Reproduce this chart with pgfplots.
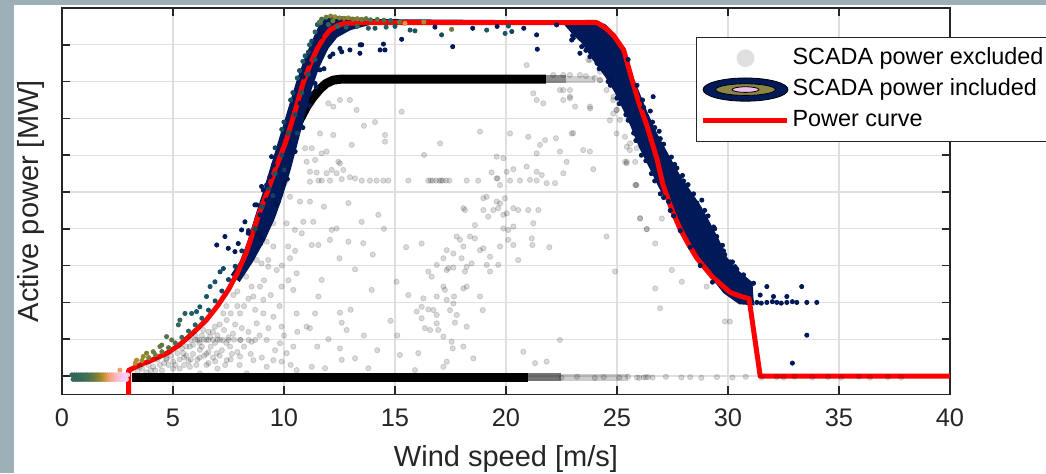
\documentclass[border=0pt]{standalone}
\usepackage{fontspec}
\setmainfont{Liberation Sans}
\usepackage{pgfplots}
\pgfplotsset{compat=1.18}

\definecolor{framebg}{RGB}{158,176,183}
\definecolor{navy}{RGB}{1,25,89}
\definecolor{axgray}{RGB}{38,38,38}
\definecolor{olivering}{RGB}{138,133,68}
\definecolor{pinkcore}{RGB}{240,190,235}

\pgfplotsset{colormap={batlow}{rgb255(0cm)=(1,25,89) rgb255(1cm)=(16,63,96) rgb255(2cm)=(28,90,98) rgb255(3cm)=(60,109,86) rgb255(4cm)=(104,123,62) rgb255(5cm)=(157,137,43) rgb255(6cm)=(210,147,67) rgb255(7cm)=(248,161,123) rgb255(8cm)=(253,183,188) rgb255(9cm)=(249,204,249)}}

\begin{document}
\begin{tikzpicture}
\useasboundingbox (0,0) rectangle (523pt,236.5pt);
\fill[framebg] (0,0) rectangle (523pt,236.5pt);
\fill[white] (7pt,0) rectangle (523pt,234pt);
\begin{axis}[
  at={(31pt,39.3pt)}, anchor=south west,
  scale only axis, width=444pt, height=193.2pt,
  xmin=0, xmax=40, ymin=-0.5, ymax=10,
  xtick={0,5,...,40}, ytick={0,1,...,10}, yticklabels={},
  grid=major, grid style={gray!25, line width=0.6pt},
  axis line style={axgray, line width=0.8pt},
  tick style={axgray, line width=0.8pt}, major tick length=4pt,
  tick align=inside,
  ticklabel style={font=\fontsize{12.7}{14}\selectfont, text=axgray},
  /pgf/number format/assume math mode=true,
  xticklabel style={yshift=-3.6pt},
  xlabel={Wind speed [m/s]}, ylabel={Active power [MW]},
  label style={font=\fontsize{14.5}{17}\selectfont, text=axgray},
  xlabel style={at={(axis description cs:0.5,-0.1853)}, anchor=base},
  ylabel style={at={(axis description cs:-0.027,0.5)}, anchor=base},
  legend style={at={(axis description cs:0.714,0.925)}, anchor=north west,
    draw=axgray, line width=0.5pt, fill=white,
    font=\fontsize{11.7}{14}\selectfont, inner xsep=2pt, inner ysep=2.5pt,
    row sep=0pt, nodes={inner xsep=1.5pt, inner ysep=2.25pt, text height=8.6pt, text depth=2.6pt}},
  legend cell align=left,
  colormap name=batlow, point meta min=0, point meta max=1,
]

% SCADA power excluded
\addplot[only marks, mark=*, mark size=1.35pt,
  mark options={draw=black, fill=black, draw opacity=0.13, fill opacity=0.15, line width=0.4pt},
  legend image code/.code={\path[draw=none, fill=none] (0pt,-5.8pt) rectangle (42.5pt,5.8pt); \fill[black!12] (21.25pt,0pt) circle (4.2pt);}]
coordinates {
(9.52,4.15)(9.67,4.69)(10.27,4.87)(10.04,5.24)(10.12,4.15)(10.49,3.97)(8.77,3.88)(8.99,3.74)(9.22,3.65)(9.52,3.52)
(8.77,3.15)(9.29,3.15)(10.19,3.52)(10.27,3.20)(8.99,3.06)(9.29,2.97)(9.67,2.88)(10.57,2.79)(8.54,2.43)(8.92,2.43)
(9.89,2.43)(8.62,2.16)(9.07,2.07)(10.42,2.34)(7.72,2.20)(8.02,1.70)(9.07,1.70)(9.52,1.61)(8.77,1.43)(9.89,1.34)
(10.57,1.70)(7.42,1.52)(7.27,1.70)(6.89,1.34)(6.36,1.25)(6.67,1.07)(7.12,0.98)(7.57,0.80)(8.02,0.98)(8.54,0.93)
(9.22,0.98)(9.82,0.89)(10.42,0.80)(5.76,0.80)(6.21,0.71)(5.46,0.62)(4.71,0.48)(5.01,0.39)(4.11,0.25)(4.41,0.30)
(6.97,0.62)(7.42,0.43)(8.02,0.53)(8.62,0.43)(9.22,0.25)(9.89,0.39)(10.57,0.16)(5.76,0.25)(6.51,0.30)(6.21,0.07)
(8.32,0.07)(9.52,0.43)(10.12,0.62)
(5.8,0.98)(6.0,0.99)(6.2,0.98)(6.4,0.99)(6.6,0.98)(6.8,0.98)(7.0,0.99)(7.25,0.98)(7.5,0.98)(7.75,0.99)
(8.05,0.98)(8.4,0.98)(8.7,0.98)(6.1,0.98)(6.5,0.98)
(5.3,0.45)(5.6,0.55)(5.9,0.6)(6.1,0.45)(6.4,0.55)(6.7,0.8)(6.9,0.9)(6.3,1.1)(6.0,1.1)(5.6,0.8)
(5.2,0.62)(7.3,1.25)(7.7,1.15)(6.6,0.35)(7.0,0.2)(5.0,0.2)(4.8,0.3)(4.5,0.15)(7.1,1.4)(7.6,0.45)
(8.1,1.3)(7.9,0.65)(3.6,0.2)(3.9,0.3)(4.2,0.15)(3.8,0.1)(5.5,0.3)(6.8,1.2)(7.4,1.9)(7.9,2.3)(8.3,2.7)(8.2,1.9)
(4.3,0.45)(4.6,0.35)(4.9,0.55)(5.1,0.3)(5.4,0.75)(5.7,0.4)(5.9,0.85)(6.05,0.3)(6.3,0.8)(6.5,0.6)
(6.6,1.2)(6.8,0.5)(7.0,1.1)(7.2,0.7)(7.35,0.3)(7.5,1.05)(7.65,0.6)(7.8,1.4)(8.0,0.3)(8.2,0.8)
(8.4,1.2)(8.5,0.6)(8.7,1.8)(8.9,1.1)(9.0,0.5)(9.3,1.3)(9.4,2.2)(9.6,0.7)(9.8,1.9)(10.0,1.1)
(10.2,2.6)(10.3,0.3)(10.6,1.2)(10.5,3.4)(9.9,3.0)(9.1,2.6)(8.4,2.1)(7.6,1.7)(7.9,1.9)(6.2,0.5)
(5.3,0.2)(4.0,0.15)(3.4,0.12)(3.5,0.25)(4.7,0.45)(5.8,0.45)(6.9,0.4)(7.1,0.55)(7.4,0.9)(5.5,0.5)
(6.6,0.65)(6.2,0.9)
(11.5,0.8)(12.0,1.0)(13.0,1.8)(13.6,1.1)(14.2,0.7)(14.8,1.5)(13.2,2.9)(12.5,3.2)(14.0,3.3)(11.8,4.6)
(12.9,4.7)(14.5,4.0)(15.5,3.5)(15.1,1.1)(16.2,3.6)(15.6,2.2)
(11.62,6.59)(12.22,6.55)(10.95,6.19)(11.25,6.19)(11.70,6.05)(11.92,6.10)(11.02,5.82)(11.40,5.87)(12.45,5.82)(12.52,5.78)
(12.67,5.60)(11.17,5.55)(11.47,5.53)(11.92,5.51)(12.15,5.60)(12.37,5.51)
(11.17,5.28)(11.55,5.31)(11.70,5.31)(12.07,5.31)(12.60,5.35)(12.97,5.40)(13.20,5.37)(13.50,5.31)(13.87,5.31)(14.17,5.31)
(14.47,5.31)(14.70,5.31)(15.60,5.31)(16.50,5.31)(16.70,5.31)(16.85,5.31)(17.00,5.31)(17.15,5.31)(17.30,5.31)(17.45,5.31)
(16.60,5.31)(17.08,5.31)(18.23,5.31)(18.75,5.31)(19.58,5.37)(20.18,5.31)
(20.63,5.31)(21.08,5.33)(21.38,5.31)(21.83,5.24)(22.21,5.24)
(14.55,6.55)(14.55,6.37)(13.05,6.28)(17.03,6.32)(16.31,6.01)(10.72,4.74)(11.17,4.74)(10.87,4.19)(11.32,4.19)(13.50,4.19)
(14.25,4.38)(12.15,3.97)(12.37,4.01)(10.80,3.88)(11.25,3.56)(11.55,3.56)(12.07,3.70)(12.90,3.65)(13.57,3.61)(15.07,2.56)
(13.95,2.34)(11.70,2.61)(11.55,2.16)(11.40,1.70)(12.52,1.72)(12.60,1.45)(12.82,1.25)(11.02,1.34)(11.17,1.30)(12.52,0.75)
(12.60,0.44)(13.20,0.48)(13.80,0.21)(11.85,0.21)(11.25,0.25)(15.22,0.57)(16.05,0.62)(15.90,0.16)(17.33,0.39)(17.18,0.25)
(18.53,0.48)(20.78,0.66)(21.31,0.35)(21.83,0.39)(22.43,0.98)
(15.98,1.75)(16.20,1.88)(16.28,2.11)(16.50,1.81)(16.73,1.79)(16.88,2.16)(16.88,1.66)(16.20,1.57)(16.35,1.30)(16.58,1.25)
(16.95,1.25)(16.88,1.43)(17.18,1.07)(17.55,0.93)(17.60,0.75)(18.08,0.80)(18.23,1.34)(17.70,1.45)(17.78,1.66)(17.48,1.79)
(17.63,1.97)(17.66,2.16)(17.33,2.07)(17.25,2.34)(17.18,2.43)(17.40,2.93)(17.63,2.95)(17.33,2.88)(16.50,2.84)(16.88,3.02)
(16.65,2.70)(17.18,3.20)(17.33,3.42)(17.63,3.33)(17.78,3.79)(17.93,3.70)(18.08,3.52)(18.00,3.20)(18.15,2.84)(18.23,2.97)
(18.45,3.06)(18.08,2.38)(18.23,2.43)(18.83,2.16)(18.95,1.79)(18.38,3.79)(18.60,3.74)(18.83,3.42)(18.98,3.47)(19.28,3.24)
(19.13,3.02)(19.28,2.84)(19.65,3.02)(19.73,3.52)(20.10,3.70)(20.33,3.56)(20.10,3.97)(19.88,4.01)(20.33,4.06)(20.55,3.15)
(21.16,3.74)(21.19,3.56)(21.95,3.50)(21.23,4.15)(21.00,4.51)(21.46,4.51)(20.55,4.51)(20.33,4.56)(20.03,4.42)(19.88,4.38)
(19.65,4.56)(19.43,4.51)(19.20,4.33)(18.98,4.51)(18.08,4.56)(18.15,4.51)(18.60,4.10)(18.98,4.83)(19.13,4.87)(19.58,4.74)
(19.95,4.83)(19.73,4.69)(19.35,5.53)(19.62,5.37)(19.73,5.19)(20.03,5.55)(20.33,5.62)(20.93,5.69)(21.38,5.55)(21.61,5.46)
(21.53,6.28)(21.76,6.41)(22.25,6.46)(21.38,6.05)(22.43,6.10)(22.73,5.82)(22.96,6.59)(23.93,5.62)(24.53,3.79)(24.91,2.84)
(26.04,4.29)(25.36,5.82)(25.86,5.19)(26.34,3.99)(25.59,6.32)(21.00,6.50)(20.18,6.59)(19.58,5.96)(19.88,5.92)(18.83,6.64)
(12.0,7.41)(12.22,7.32)(12.52,7.5)(12.97,7.5)(13.27,7.23)(15.3,7.18)(14.1,6.9)(13.6,6.8)
(20.93,8.45)(21.23,7.68)(21.38,7.5)(21.68,7.41)(22.43,7.77)(22.58,7.5)(22.88,7.59)(23.11,7.32)(23.79,7.27)(24.24,8.04)
(24.69,8.04)(24.84,7.59)(24.99,7.23)(22.58,7.77)(22.88,7.55)(23.78,7.32)(24.23,8.04)(24.53,7.77)(24.83,7.5)(24.98,7.23)
(25.13,6.96)(25.36,6.5)(25.58,6.14)(23.03,6.6)(23.71,8.59)(24.23,8.27)(23.78,8.59)(22.88,7.77)(23.48,6.14)(23.78,6.1)
(22.58,5.51)(25.43,5.78)(25.88,5.19)(24.98,6.59)(24.68,6.95)(24.83,7.13)
(22.13,8.18)(22.58,8.18)(22.88,8.18)(23.33,8.18)(23.6,8.15)(24.0,8.1)
(25.44,6.23)(25.89,6.19)(25.44,5.82)(25.82,5.82)(25.82,5.19)(26.04,4.28)(26.34,3.99)(27.02,4.28)(26.72,3.60)(27.47,2.88)
(27.92,2.56)(29.04,2.43)(26.72,2.38)(26.94,1.84)(29.86,1.48)(30.09,1.48)
(22.5,-0.04)(23.2,-0.02)(24.0,-0.05)(24.4,-0.03)(25.1,-0.04)(25.5,-0.02)(26.0,-0.05)(26.3,-0.03)(26.6,-0.04)(27.2,-0.02)
(27.9,-0.04)(28.3,-0.03)(28.8,-0.05)(29.5,-0.03)(30.2,-0.04)(30.8,-0.02)(31.5,-0.04)(32.2,-0.03)(32.5,-0.04)(33.0,-0.02)
(33.8,-0.04)(34.5,-0.03)(35.1,-0.04)(35.9,-0.02)(36.4,-0.04)(37.2,-0.03)(37.8,-0.04)(26.2,-0.04)(26.4,-0.03)(25.9,-0.04)
};
\addlegendentry{SCADA power excluded}

% dense excluded bands
\addplot[black, line width=4.5pt, forget plot] coordinates {(3.15,-0.03) (21.0,-0.03)};
\addplot[black, opacity=0.55, line width=4pt, forget plot] coordinates {(21.0,-0.03) (22.5,-0.03)};
\addplot[black, opacity=0.2, line width=3.5pt, forget plot] coordinates {(22.5,-0.03) (25.5,-0.03)};
\addplot[black, line width=4.5pt, line join=round, forget plot] coordinates {
(10.1,6.05)(10.34,6.41)(10.7,6.95)(11.02,7.32)(11.3,7.57)(11.62,7.8)(11.9,7.95)(12.22,8.04)(12.6,8.07)(21.8,8.07)};
\addplot[black, opacity=0.45, line width=4pt, forget plot] coordinates {(21.8,8.07) (22.7,8.07)};
\addplot[black, opacity=0.18, line width=3.5pt, forget plot] coordinates {(22.7,8.07) (24.0,8.07)};

% SCADA power included: dense core
\addplot[fill=navy, draw=none, forget plot] coordinates {
(7.6,2.75)(8.0,3.1)(8.35,3.65)(8.7,4.35)(9.05,5.0)(9.4,5.7)(9.8,6.5)(10.2,7.3)(10.55,8.0)(10.9,8.6)
(11.25,9.1)(11.55,9.5)(11.85,9.72)(12.3,9.78)(13.0,9.76)(14.0,9.7)(22.5,9.66)(24.0,9.68)(24.5,9.55)(24.9,9.3)
(25.25,8.9)(25.75,8.1)(26.35,7.2)(26.8,6.6)(27.25,6.1)(27.8,5.5)(28.3,5.05)(28.8,4.6)(29.2,4.16)(29.6,3.7)
(29.95,3.23)(30.5,2.85)(31.1,2.55)(31.15,2.1)(31.2,1.92)(30.5,1.95)
(29.8,2.25)(29.2,2.7)(28.6,3.2)(28.15,3.7)(27.8,4.16)(27.3,4.7)(26.9,5.1)(26.5,5.6)(26.0,6.2)(25.6,6.8)
(25.3,7.2)(24.9,7.7)(24.5,8.1)(23.9,8.6)(23.4,9.05)(22.9,9.35)(22.6,9.56)
(14.0,9.56)(13.0,9.4)(12.4,9.2)(12.0,8.9)(11.6,8.4)(11.25,7.8)(10.95,7.1)(10.65,6.4)(10.3,5.6)(9.95,4.9)
(9.6,4.3)(9.15,3.7)(8.6,3.1)(8.0,2.55)} -- cycle;

% SCADA power included: coloured by density
\addplot[scatter, only marks, mark=*, mark size=1.05pt, scatter src=explicit,
  scatter/use mapped color={draw=mapped color, fill=mapped color}, forget plot]
coordinates {
(0.45,0.03)[0.30](0.55,0.03)[0.30](0.65,0.03)[0.30](0.75,0.03)[0.31](0.85,0.03)[0.32](0.95,0.03)[0.33]
(1.05,0.03)[0.34](1.15,0.03)[0.36](1.25,0.03)[0.37](1.35,0.03)[0.40](1.45,0.03)[0.43](1.55,0.03)[0.46]
(1.65,0.03)[0.50](1.75,0.03)[0.54](1.85,0.03)[0.59](1.95,0.03)[0.64](2.05,0.03)[0.70](2.15,0.03)[0.76]
(2.25,0.03)[0.80](2.35,0.03)[0.84](2.45,0.03)[0.88](2.55,0.03)[0.92](2.65,0.03)[0.95](2.75,0.03)[0.98]
(2.85,0.03)[1.0](2.95,0.03)[1.0]
(0.5,-0.09)[0.30](0.6,-0.09)[0.30](0.7,-0.09)[0.30](0.8,-0.09)[0.31](0.9,-0.09)[0.32](1.0,-0.09)[0.33]
(1.1,-0.09)[0.35](1.2,-0.09)[0.36](1.3,-0.09)[0.38](1.4,-0.09)[0.41](1.5,-0.09)[0.44](1.6,-0.09)[0.48]
(1.7,-0.09)[0.52](1.8,-0.09)[0.56](1.9,-0.09)[0.62](2.0,-0.09)[0.67](2.1,-0.09)[0.73](2.2,-0.09)[0.78]
(2.3,-0.09)[0.82](2.4,-0.09)[0.86](2.5,-0.09)[0.90](2.6,-0.09)[0.94](2.7,-0.09)[0.97](2.8,-0.09)[1.0](2.9,-0.09)[1.0]
(2.61,0.16)[0.75](3.36,0.43)[0.6](3.66,0.53)[0.55](3.81,0.62)[0.5](4.11,0.66)[0.45](4.41,0.80)[0.45]
(4.49,0.84)[0.42](4.71,1.07)[0.4](4.94,0.98)[0.42](5.24,1.39)[0.3](5.31,1.52)[0.3](5.54,1.70)[0.26]
(5.84,1.70)[0.25](6.06,1.75)[0.22](6.21,1.88)[0.2](6.51,2.16)[0.2](6.67,2.43)[0.2](6.89,2.56)[0.18]
(7.12,2.83)[0.15](7.27,2.92)[0.15]
(3.3,0.35)[0.6](3.6,0.42)[0.55](3.9,0.5)[0.5](4.2,0.58)[0.46](4.5,0.66)[0.43](4.8,0.77)[0.4]
(5.1,0.9)[0.36](5.4,1.05)[0.32](5.7,1.22)[0.28](6.0,1.39)[0.25](6.3,1.57)[0.22](6.6,1.79)[0.2]
(6.9,2.04)[0.18](7.2,2.31)[0.15](7.5,2.62)[0.12](7.8,2.98)[0.1](8.1,3.4)[0.08](8.4,3.95)[0.05]
(9.6,6.2)[0.12](9.9,6.7)[0.15](10.3,7.5)[0.17](10.6,8.1)[0.2](10.85,8.55)[0.22](11.15,9.0)[0.25]
(11.4,9.35)[0.3](11.65,9.6)[0.35](10.0,6.9)[0.12](10.4,7.7)[0.15](10.7,8.3)[0.18](10.95,8.7)[0.2]
(9.0,4.6)[0.18](9.3,5.1)[0.15](9.6,5.5)[0.2](9.9,6.0)[0.15](10.2,6.6)[0.18](10.5,7.1)[0.15]
(10.8,7.7)[0.2](11.1,8.2)[0.18](11.4,8.6)[0.2](8.7,4.0)[0.15](9.5,4.9)[0.12](10.0,5.6)[0.12](10.6,6.6)[0.12]
(11.7,9.7)[0.35](11.9,9.75)[0.45](12.1,9.78)[0.5](12.3,9.76)[0.55](12.5,9.73)[0.5](12.7,9.72)[0.48]
(12.9,9.73)[0.52](13.1,9.7)[0.46](13.3,9.71)[0.5](13.5,9.69)[0.45](13.7,9.71)[0.42](13.9,9.68)[0.38]
(14.2,9.69)[0.42](14.5,9.67)[0.36](14.8,9.66)[0.3](11.5,9.55)[0.25](11.25,9.1)[0.15](11.1,8.8)[0.12]
(12.0,9.55)[0.3](12.4,9.5)[0.3](12.8,9.48)[0.25](13.3,9.5)[0.3](13.8,9.45)[0.25](15.45,9.58)[0.7]
(16.3,9.62)[0.6](14.1,9.45)[0.2](14.6,9.48)[0.25](15.0,9.5)[0.2](15.2,9.62)[0.45](15.68,9.40)[0.2]
(15.90,9.38)[0.2](17.10,9.27)[0.18](17.55,9.42)[0.45](19.13,9.40)[0.22](19.96,9.31)[0.2](20.26,9.36)[0.15]
(20.11,9.51)[0.2](11.6,9.62)[0.4](12.2,9.65)[0.45]
};

% SCADA power included: sparse outer points
\addplot[only marks, mark=*, mark size=1.05pt, color=navy,
  legend image code/.code={
    \filldraw[fill=navy, draw=black, line width=0.4pt] (21.25pt,0pt) ellipse [x radius=21.25pt, y radius=5.8pt];
    \filldraw[fill=olivering, draw=black, line width=0.4pt] (21.25pt,0pt) ellipse [x radius=14.9pt, y radius=2.9pt];
    \filldraw[fill=pinkcore, draw=black, line width=0.4pt] (21.25pt,0pt) ellipse [x radius=6.7pt, y radius=1.4pt];}]
coordinates {
(8.69,4.65)(8.99,5.15)(9.44,5.96)(9.52,5.73)(9.37,5.42)(10.87,8.13)(11.10,8.50)(11.40,9.04)(11.62,9.22)(12.52,8.90)
(12.60,8.81)(12.97,8.86)(13.42,8.77)(13.50,9.0)(12.07,8.68)(11.62,8.32)(10.72,6.96)(11.17,7.68)(11.40,7.95)(10.72,7.41)
(10.42,6.41)(10.12,5.87)(9.82,5.6)(9.74,5.05)(9.22,4.78)(6.97,3.56)(7.49,3.47)(7.34,3.79)(7.79,3.38)(7.94,3.6)
(8.09,3.97)(8.24,4.19)(8.39,3.88)(8.77,4.65)(8.92,4.38)(9.07,5.05)(9.22,5.19)(9.75,4.75)(9.4,4.2)(8.95,3.6)
(10.15,5.35)(10.5,6.1)(10.85,6.75)(11.15,7.35)(11.45,7.85)(11.8,8.35)(12.2,8.75)
(13.43,9.0)(14.33,8.86)(14.48,9.02)(14.55,8.86)(15.30,9.15)(17.60,8.95)(21.38,9.27)(21.41,8.88)(22.28,9.54)
(18.5,9.45)(16.8,9.48)(20.8,9.45)(19.6,9.5)
(23.33,8.77)(23.41,8.95)(23.03,9.18)(23.78,8.68)(24.01,8.95)(22.96,9.13)(26.63,7.59)(28.82,4.78)(27.32,4.74)
(29.49,3.79)(30.32,2.97)(29.64,2.79)(31.15,2.52)(31.75,2.43)(33.32,2.43)(31.45,2.2)(32.05,2.16)(32.65,2.16)
(31.3,2.0)(31.75,2.0)(32.2,2.0)(32.65,2.0)(33.1,2.0)(33.55,2.0)(34.0,2.0)(31.5,1.98)(32.0,2.02)(32.4,1.98)(32.9,2.02)
(33.55,1.11)(32.9,0.35)(28.6,4.7)(29.0,4.3)(29.4,4.0)(29.8,3.4)(30.2,3.1)(30.7,2.75)(28.0,5.3)(27.6,5.75)
(27.1,6.3)(26.6,6.9)(26.9,6.65)(26.2,7.3)(24.2,8.35)(24.7,7.9)(25.1,7.4)(25.5,6.95)(25.85,6.4)(26.3,5.85)
(26.7,5.3)(27.1,4.85)(27.55,4.35)
(25.5,8.6)(25.9,7.9)(26.5,7.2)(26.95,6.45)(27.45,5.95)(27.95,5.45)(28.45,4.95)(28.95,4.5)(29.35,4.05)(29.75,3.55)
(30.1,3.1)(30.65,2.7)(31.0,2.45)(28.2,5.2)(27.7,5.65)(29.1,4.35)(29.85,3.3)(30.4,2.9)(26.7,6.75)(26.15,7.5)
(23.0,9.25)(23.6,8.85)(24.1,8.5)(24.6,8.0)(25.0,7.55)(25.4,7.1)(25.75,6.6)(26.1,6.0)(26.55,5.5)(26.95,4.95)
(27.4,4.5)(27.85,3.95)(28.3,3.5)(28.75,3.0)(29.3,2.55)
};
\addlegendentry{SCADA power included}

% Power curve
\addplot[red, line width=2.5pt, line join=round,
  legend image code/.code={\draw[red, line width=2.5pt] (0pt,0pt) -- (42pt,0pt);}]
coordinates {
(3,-0.6)(3,0.15)(3.5,0.3)(4,0.42)(4.73,0.62)(5.3,0.85)(5.9,1.17)(6.5,1.52)(7.0,1.9)(7.5,2.35)
(7.9,2.8)(8.3,3.35)(8.6,3.9)(8.9,4.45)(9.25,5.0)(9.6,5.6)(10.1,6.4)(10.5,7.2)(10.86,7.96)(11.2,8.5)
(11.5,8.9)(11.8,9.2)(12.07,9.4)(12.4,9.52)(12.7,9.58)(13.5,9.6)(24.1,9.6)(24.5,9.45)(24.85,9.25)(25.3,8.86)
(25.7,8.0)(26.0,7.4)(26.35,6.8)(26.8,5.9)(27.07,5.2)(27.45,4.55)(27.84,4.0)(28.2,3.6)(28.6,3.2)(29.3,2.69)
(30.1,2.27)(30.5,2.18)(30.95,2.1)(31.45,0)(40,0)};
\addlegendentry{Power curve}

\end{axis}
\end{tikzpicture}
\end{document}
